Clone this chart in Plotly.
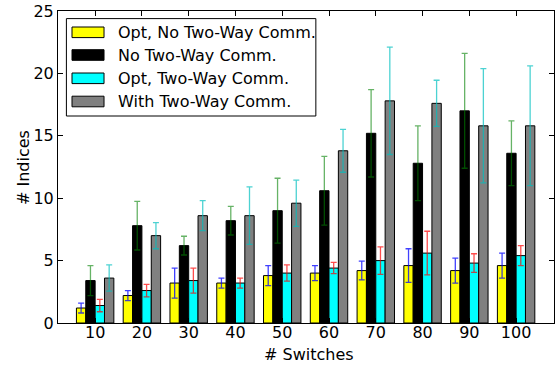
import plotly.graph_objects as go

switches = ["10", "20", "30", "40", "50", "60", "70", "80", "90", "100"]

opt_no_two_way = [1.2, 2.2, 3.2, 3.2, 3.8, 4.0, 4.2, 4.6, 4.2, 4.6]
opt_no_two_way_err = [0.4, 0.4, 1.2, 0.4, 0.8, 0.6, 0.75, 1.35, 1.0, 1.0]

no_two_way = [3.4, 7.8, 6.2, 8.2, 9.0, 10.6, 15.2, 12.8, 17.0, 13.6]
no_two_way_err = [1.2, 1.95, 0.75, 1.15, 2.6, 2.75, 3.5, 3.0, 4.6, 2.6]

opt_two_way = [1.4, 2.6, 3.4, 3.2, 4.0, 4.4, 5.0, 5.6, 4.8, 5.4]
opt_two_way_err = [0.5, 0.5, 1.0, 0.4, 0.65, 0.45, 1.1, 1.75, 0.75, 0.8]

with_two_way = [3.6, 7.0, 8.6, 8.6, 9.6, 13.8, 17.8, 17.6, 15.8, 15.8]
with_two_way_err = [1.05, 1.05, 1.2, 2.3, 1.85, 1.72, 4.3, 1.85, 4.58, 4.8]

series_names = ["Opt, No Two-Way Comm.", "No Two-Way Comm.",
                "Opt, Two-Way Comm.", "With Two-Way Comm."]
series_vals = [opt_no_two_way, no_two_way, opt_two_way, with_two_way]
series_errs = [opt_no_two_way_err, no_two_way_err, opt_two_way_err, with_two_way_err]
fill_colors = ["#ffff00", "#000000", "#00ffff", "#808080"]
err_colors = ["rgba(0,0,255,0.75)", "rgba(0,128,0,0.6)",
              "rgba(255,0,0,0.7)", "rgba(0,191,191,0.7)"]

FONT = "DejaVu Sans"
W, H = 558, 365
ML, MR, MT, MB = 58.3, 4.0, 10.7, 42.3
PW = W - ML - MR
PH = H - MT - MB

fig = go.Figure()
for name, vals, errs, fc, ec in zip(series_names, series_vals, series_errs,
                                    fill_colors, err_colors):
    fig.add_trace(go.Bar(
        x=switches, y=vals, name=name,
        marker=dict(color=fc, line=dict(color="black", width=1)),
        error_y=dict(type="data", array=errs, visible=True,
                     color=ec, thickness=1.3, width=3),
        showlegend=False,
    ))


def px_x(p):
    return (p - ML) / PW


def px_y(p):
    return (H - MB - p) / PH


shapes = []
annotations = []
# legend frame
shapes.append(dict(type="rect", xref="paper", yref="paper",
                   x0=px_x(66.7), x1=px_x(316.0), y0=px_y(115.7), y1=px_y(18.3),
                   line=dict(color="black", width=1), fillcolor="white", layer="above"))
row_centers = [32.0, 54.7, 78.0, 101.2]
for name, fc, yc in zip(series_names, fill_colors, row_centers):
    shapes.append(dict(type="rect", xref="paper", yref="paper",
                       x0=px_x(72.3), x1=px_x(104.3),
                       y0=px_y(yc + 5.3), y1=px_y(yc - 5.3),
                       line=dict(color="black", width=1), fillcolor=fc, layer="above"))
    annotations.append(dict(xref="paper", yref="paper", x=px_x(116.5), y=px_y(yc),
                            text=name, showarrow=False, xanchor="left", yanchor="middle",
                            font=dict(family=FONT, size=16, color="black")))

# axis titles
annotations.append(dict(xref="paper", yref="paper", x=px_x(309.0), y=px_y(354.0),
                        text="# Switches", showarrow=False, xanchor="center",
                        yanchor="middle", font=dict(family=FONT, size=16, color="black")))
annotations.append(dict(xref="paper", yref="paper", x=px_x(23.3), y=px_y(166.7),
                        text="# Indices", showarrow=False, xanchor="center",
                        yanchor="middle", textangle=-90,
                        font=dict(family=FONT, size=16, color="black")))

fig.update_layout(
    width=W, height=H,
    margin=dict(l=ML, r=MR, t=MT, b=MB, pad=0, autoexpand=False),
    paper_bgcolor="white", plot_bgcolor="white",
    barmode="group", bargap=0.2, bargroupgap=0,
    font=dict(family=FONT, size=16, color="black"),
    shapes=shapes, annotations=annotations,
)
fig.update_xaxes(
    type="category", range=[-0.794, 9.81], automargin=False,
    showline=True, linecolor="black", linewidth=1, mirror="ticks",
    ticks="inside", ticklen=5, tickcolor="black",
    showgrid=False, zeroline=False,
    ticklabelstandoff=-5,
    tickfont=dict(family=FONT, size=16),
)
fig.update_yaxes(
    range=[0, 25], tickvals=[0, 5, 10, 15, 20, 25], automargin=False,
    showline=True, linecolor="black", linewidth=1, mirror="ticks",
    ticks="inside", ticklen=5, tickcolor="black",
    showgrid=False, zeroline=False,
    tickfont=dict(family=FONT, size=16),
)

fig.write_html("out.html", config={"displayModeBar": False},
               post_script="document.body.style.margin='0';document.body.style.overflow='hidden';")
